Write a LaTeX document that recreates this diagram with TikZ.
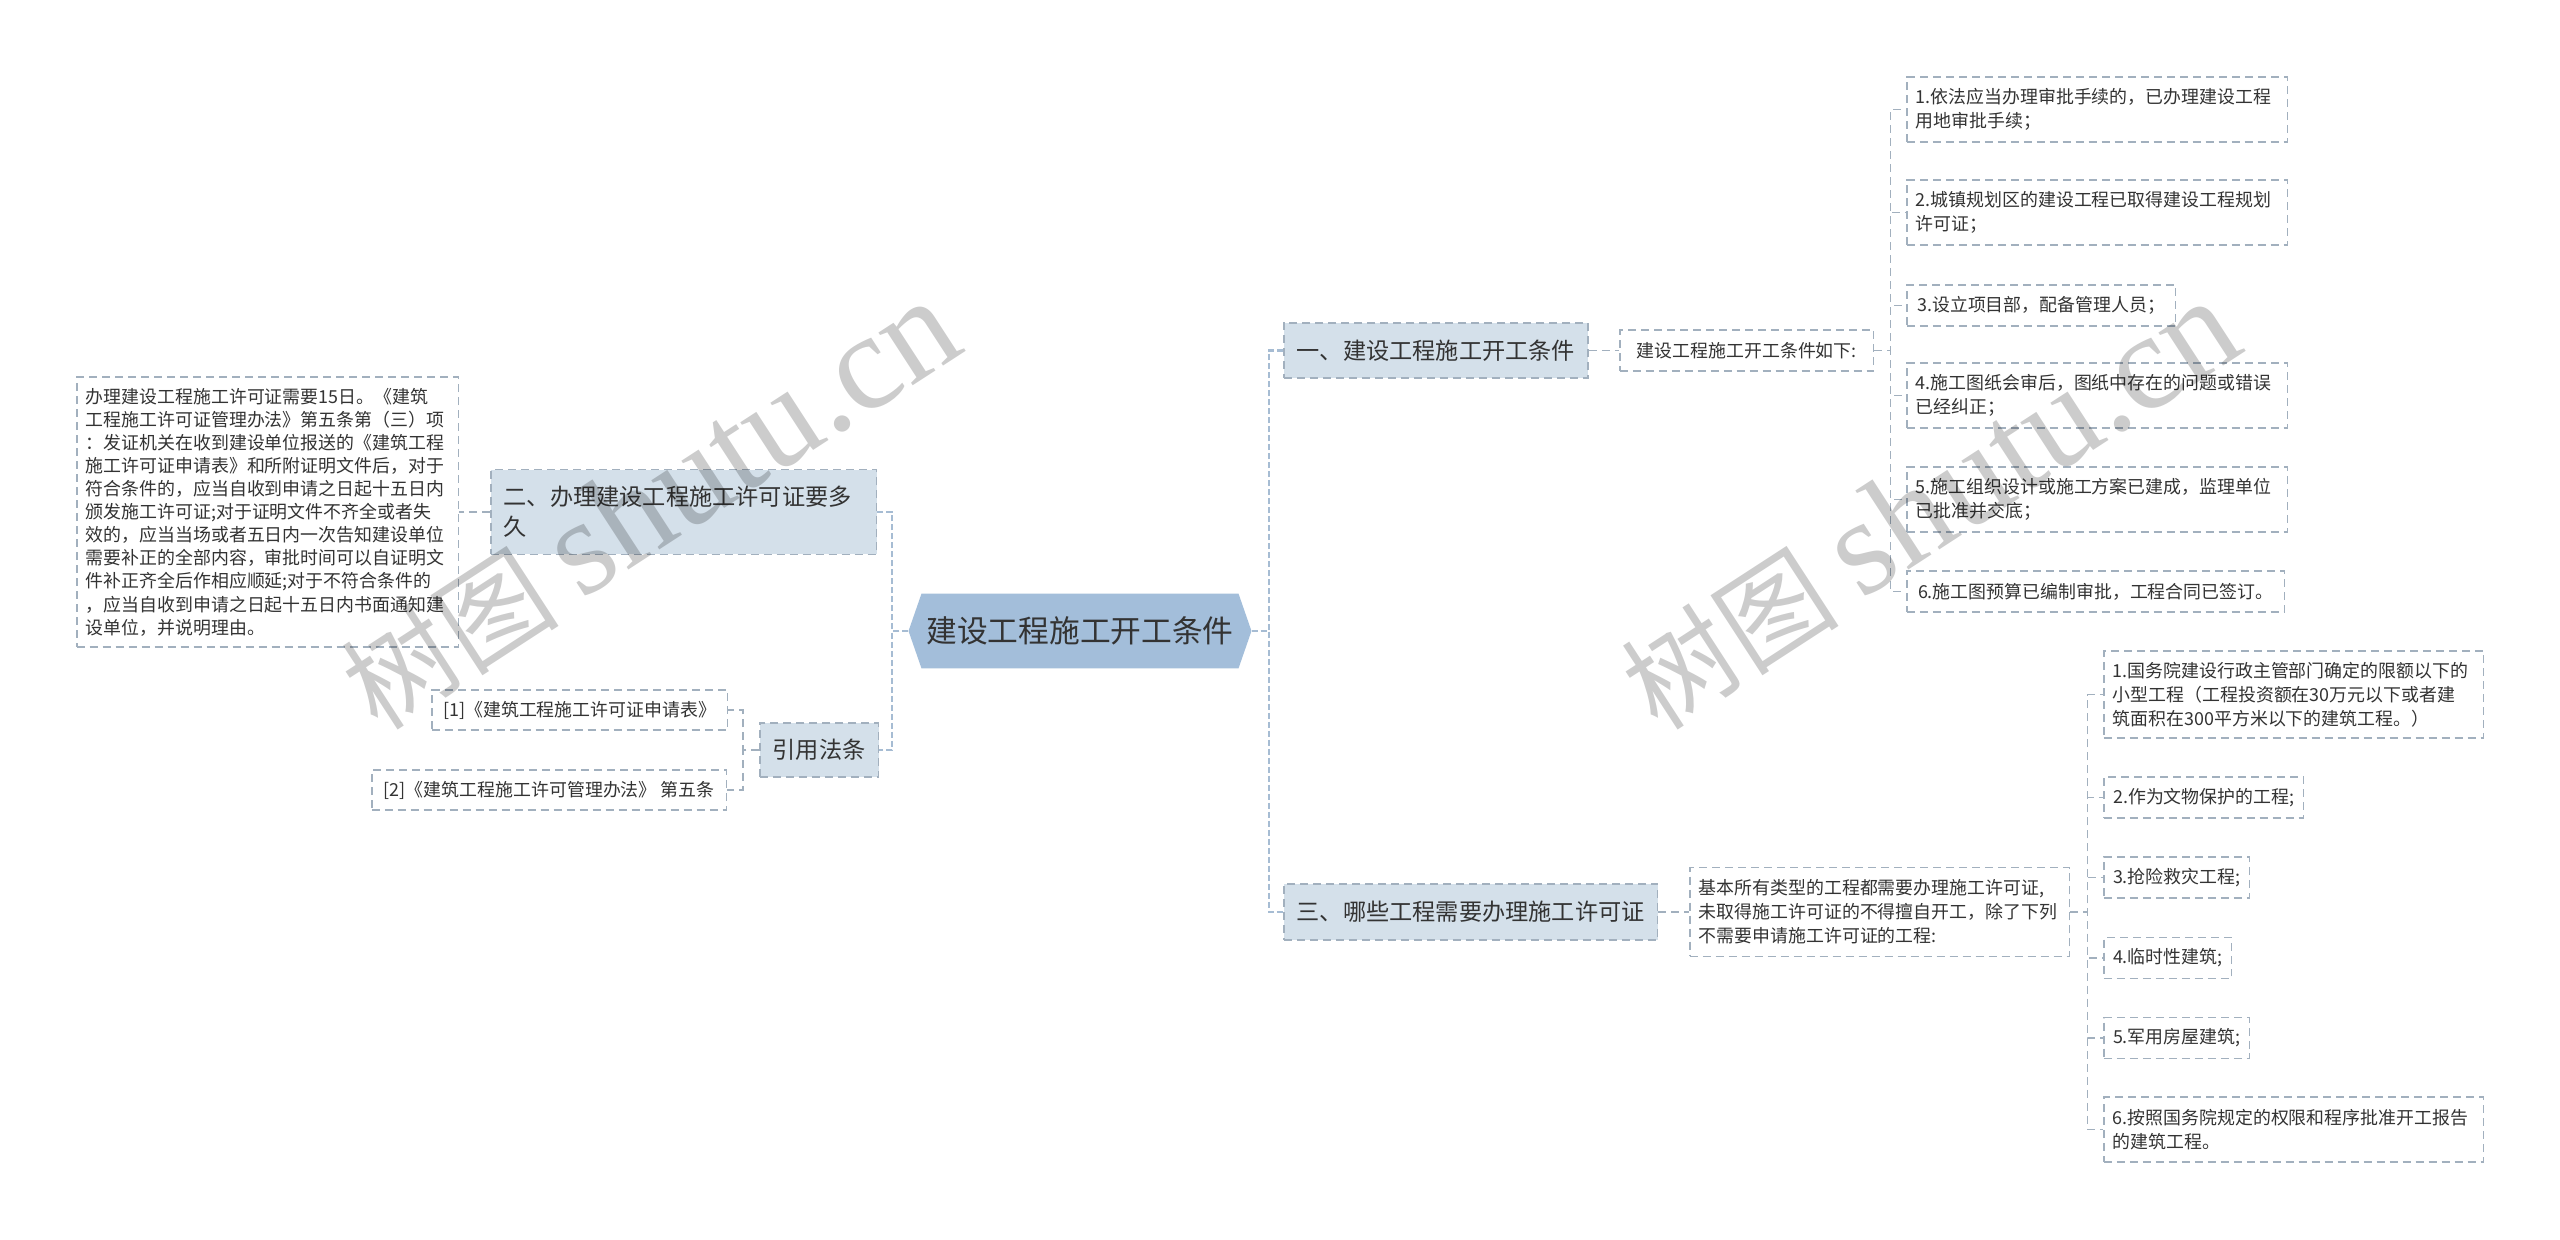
\documentclass[tikz,border=0pt]{standalone}
\usepackage{fontspec}
\setmainfont{Noto Sans CJK SC}
\newfontfamily\wmserif{Liberation Serif}
\usetikzlibrary{positioning}

\definecolor{inktext}{HTML}{333333}
\definecolor{rootfill}{HTML}{A3BEDA}
\definecolor{topicfill}{HTML}{D4E0EA}
\definecolor{boxline}{HTML}{A2B0BE}
\definecolor{mainline}{HTML}{A6BCD3}

\tikzset{
  box/.style={draw=boxline, line width=0.03cm, dash pattern=on 0.16cm off 0.1cm,
    text=inktext, inner xsep=0.18cm, inner ysep=0cm, anchor=west, align=left},
  leaf/.style={box, fill=white, font=\fontsize{10.2}{13.7}\selectfont, minimum height=0.82cm},
  topic/.style={box, fill=topicfill, font=\fontsize{13.2}{17}\selectfont, inner xsep=0.26cm},
  rootnode/.style={fill=white, minimum width=6.86cm, minimum height=1.5cm, inner sep=0pt,
    text=inktext, font=\fontsize{17.5}{20}\selectfont,
    path picture={\fill[rootfill] (path picture bounding box.west)
      -- ([xshift=0.26cm]path picture bounding box.north west)
      -- ([xshift=-0.26cm]path picture bounding box.north east)
      -- (path picture bounding box.east)
      -- ([xshift=-0.26cm]path picture bounding box.south east)
      -- ([xshift=0.26cm]path picture bounding box.south west) -- cycle;}},
  mainlink/.style={draw=mainline, line width=0.05cm, dash pattern=on 0.12cm off 0.06cm},
  sublink/.style={draw=boxline, line width=0.03cm, dash pattern=on 0.16cm off 0.1cm},
  wmark/.style={text=black, text opacity=0.2, rotate=33, inner sep=0pt}
}

\begin{document}
\begin{tikzpicture}[x=0.02cm, y=-0.02cm]
  \useasboundingbox[fill=white] (0,0) rectangle (2560,1240);

  % centre
  \node[rootnode] (root) at (1080,631) {建设工程施工开工条件};

  % first level
  \node[topic, minimum width=6.08cm, minimum height=1.1cm] (one) at (1283,350.5) {一、建设工程施工开工条件};
  \node[topic, minimum width=7.48cm, minimum height=1.12cm] (three) at (1283,912) {三、哪些工程需要办理施工许可证};
  \node[topic, text width=7.2cm, minimum height=1.7cm] (two) at (490,512) {二、办理建设工程施工许可证要多\\久};
  \node[topic, minimum width=2.32cm, minimum height=1.08cm] (cite) at (759,750) {引用法条};

  % conditions
  \node[leaf, minimum width=5.08cm] (cond) at (1619,350.5) {建设工程施工开工条件如下:};
  \node[leaf, text width=7.26cm, minimum height=1.3cm] (c1) at (1906,109.5) {1.依法应当办理审批手续的，已办理建设工程\\用地审批手续；};
  \node[leaf, text width=7.26cm, minimum height=1.3cm] (c2) at (1906,212.5) {2.城镇规划区的建设工程已取得建设工程规划\\许可证；};
  \node[leaf, minimum width=5.38cm] (c3) at (1906,305.5) {3.设立项目部，配备管理人员；};
  \node[leaf, text width=7.26cm, minimum height=1.3cm] (c4) at (1906,395.5) {4.施工图纸会审后，图纸中存在的问题或错误\\已经纠正；};
  \node[leaf, text width=7.26cm, minimum height=1.3cm] (c5) at (1906,499.5) {5.施工组织设计或施工方案已建成，监理单位\\已批准并交底；};
  \node[leaf, minimum width=7.56cm] (c6) at (1906,591.5) {6.施工图预算已编制审批，工程合同已签订。};

  % exemptions
  \node[leaf, text width=7.24cm, minimum height=1.78cm] (need) at (1689,912) {基本所有类型的工程都需要办理施工许可证,\\未取得施工许可证的不得擅自开工，除了下列\\不需要申请施工许可证的工程:};
  \node[leaf, text width=7.24cm, minimum height=1.74cm] (e1) at (2103,694.5) {1.国务院建设行政主管部门确定的限额以下的\\小型工程（工程投资额在30万元以下或者建\\筑面积在300平方米以下的建筑工程。）};
  \node[leaf, minimum width=4cm] (e2) at (2103,797.5) {2.作为文物保护的工程;};
  \node[leaf, minimum width=2.92cm] (e3) at (2103,877.5) {3.抢险救灾工程;};
  \node[leaf, minimum width=2.56cm] (e4) at (2103,958) {4.临时性建筑;};
  \node[leaf, minimum width=2.92cm] (e5) at (2103,1038) {5.军用房屋建筑;};
  \node[leaf, text width=7.24cm, minimum height=1.3cm] (e6) at (2103,1129.5) {6.按照国务院规定的权限和程序批准开工报告\\的建筑工程。};

  % left side
  \node[leaf, text width=7.28cm, minimum height=5.4cm, font=\fontsize{10.2}{13.15}\selectfont] (period) at (76,512) {办理建设工程施工许可证需要15日。《建筑\\工程施工许可证管理办法》第五条第（三）项\\：发证机关在收到建设单位报送的《建筑工程\\施工许可证申请表》和所附证明文件后，对于\\符合条件的，应当自收到申请之日起十五日内\\颁发施工许可证;对于证明文件不齐全或者失\\效的，应当当场或者五日内一次告知建设单位\\需要补正的全部内容，审批时间可以自证明文\\件补正齐全后作相应顺延;对于不符合条件的\\，应当自收到申请之日起十五日内书面通知建\\设单位，并说明理由。};
  \node[leaf, minimum width=5.92cm, minimum height=0.8cm] (ref1) at (431,710) {[1]《建筑工程施工许可证申请表》};
  \node[leaf, minimum width=7.1cm, minimum height=0.8cm] (ref2) at (371,790) {[2]《建筑工程施工许可管理办法》 第五条};

  % connectors
  \draw[mainlink] (root.east) -- ++(17,0) |- (one.west);
  \draw[mainlink] (root.east) -- ++(17,0) |- (three.west);
  \draw[mainlink] (root.west) -- ++(-16,0) |- (two.east);
  \draw[mainlink] (root.west) -- ++(-16,0) |- (cite.east);
  \draw[sublink] (one.east) -- (cond.west);
  \foreach \n in {c1,c2,c3,c4,c5,c6}
    \draw[sublink] (cond.east) -- ++(16,0) |- (\n.west);
  \draw[sublink] (three.east) -- (need.west);
  \foreach \n in {e1,e2,e3,e4,e5,e6}
    \draw[sublink] (need.east) -- ++(17,0) |- (\n.west);
  \draw[sublink] (two.west) -- (period.east);
  \foreach \n in {ref1,ref2}
    \draw[sublink] (cite.west) -- ++(-16,0) |- (\n.east);

  % watermark
  \node[wmark] (wm1) at (650,505) {\fontsize{62}{62}\selectfont 树图 {\wmserif\fontsize{78}{78}\selectfont shutu.cn}};
  \node[wmark] (wm2) at (1930,505) {\fontsize{62}{62}\selectfont 树图 {\wmserif\fontsize{78}{78}\selectfont shutu.cn}};
\end{tikzpicture}
\end{document}
